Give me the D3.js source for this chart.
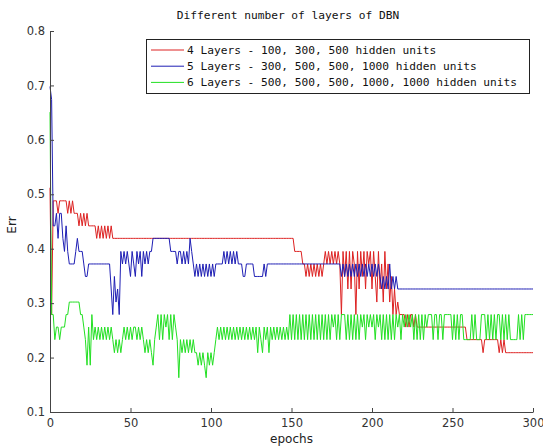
<!DOCTYPE html>
<html>
<head>
<meta charset="utf-8">
<script src="https://cdn.jsdelivr.net/npm/d3@7"></script>
<style>
  html, body { margin: 0; padding: 0; background: #fff; }
  svg { display: block; }
</style>
</head>
<body>
<svg id="chart" width="543" height="446"></svg>
<script>
// ---------------- DATA ----------------
const chartTitle = "Different number of layers of DBN";
const xLabel = "epochs";
const yLabel = "Err";
const xTicks = [0, 50, 100, 150, 200, 250, 300];
const yTicks = [0.1, 0.2, 0.3, 0.4, 0.5, 0.6, 0.7, 0.8];
const seriesNames = [
  "4 Layers - 100, 300, 500 hidden units",
  "5 Layers - 300, 500, 500, 1000 hidden units",
  "6 Layers - 500, 500, 500, 1000, 1000 hidden units"
];

// error per epoch 0..300
const err4Layers = [
  .512,.279,.488,.488,.488,.465,.488,.488,.488,.488,
  .488,.465,.488,.465,.488,.465,.465,.465,.442,.465,
  .442,.465,.442,.465,.442,.442,.442,.442,.442,.419,
  .442,.419,.442,.419,.442,.419,.442,.419,.442,.419,
  .419,.419,.419,.419,.419,.419,.419,.419,.419,.419,
  .419,.419,.419,.419,.419,.419,.419,.419,.419,.419,
  .419,.419,.419,.419,.419,.419,.419,.419,.419,.419,
  .419,.419,.419,.419,.419,.419,.419,.419,.419,.419,
  .419,.419,.419,.419,.419,.419,.419,.419,.419,.419,
  .419,.419,.419,.419,.419,.419,.419,.419,.419,.419,
  .419,.419,.419,.419,.419,.419,.419,.419,.419,.419,
  .419,.419,.419,.419,.419,.419,.419,.419,.419,.419,
  .419,.419,.419,.419,.419,.419,.419,.419,.419,.419,
  .419,.419,.419,.419,.419,.419,.419,.419,.419,.419,
  .419,.419,.419,.419,.419,.419,.419,.419,.419,.419,
  .419,.419,.395,.395,.395,.395,.395,.372,.372,.349,
  .372,.349,.372,.349,.372,.349,.372,.349,.372,.349,
  .372,.395,.372,.395,.372,.395,.372,.395,.372,.395,
  .372,.279,.395,.349,.395,.326,.395,.326,.395,.372,
  .279,.395,.326,.395,.349,.395,.326,.395,.372,.395,
  .326,.395,.349,.302,.395,.326,.372,.302,.395,.326,
  .372,.302,.349,.279,.326,.279,.302,.279,.279,.279,
  .279,.256,.279,.256,.279,.279,.256,.279,.256,.256,
  .256,.256,.256,.256,.256,.256,.256,.256,.256,.256,
  .256,.256,.256,.256,.256,.256,.256,.256,.256,.256,
  .256,.256,.256,.256,.256,.256,.256,.256,.256,.233,
  .233,.233,.233,.233,.233,.233,.233,.233,.233,.209,
  .233,.233,.233,.233,.233,.233,.233,.233,.233,.209,
  .233,.209,.233,.209,.209,.209,.209,.209,.209,.209,
  .209,.209,.209,.209,.209,.209,.209,.209,.209,.209,
  .209
];

const err5Layers = [
  .698,.674,.442,.442,.465,.419,.465,.465,.419,.395,
  .442,.395,.372,.372,.372,.372,.395,.419,.395,.395,
  .395,.372,.349,.349,.372,.372,.372,.372,.372,.372,
  .372,.372,.372,.372,.372,.372,.372,.372,.326,.279,
  .349,.302,.326,.279,.395,.372,.395,.372,.395,.372,
  .349,.395,.372,.349,.395,.372,.395,.349,.395,.372,
  .395,.372,.395,.395,.419,.419,.419,.419,.419,.419,
  .419,.419,.419,.419,.419,.395,.395,.395,.395,.372,
  .395,.395,.372,.395,.372,.395,.372,.419,.395,.372,
  .349,.372,.349,.372,.349,.372,.349,.372,.349,.372,
  .349,.372,.349,.372,.372,.372,.372,.372,.395,.372,
  .395,.372,.395,.372,.395,.372,.395,.372,.372,.372,
  .349,.349,.372,.372,.372,.372,.372,.349,.349,.349,
  .349,.349,.349,.372,.349,.372,.372,.372,.372,.372,
  .372,.372,.372,.372,.372,.372,.372,.372,.372,.372,
  .372,.372,.372,.372,.372,.372,.372,.372,.372,.372,
  .372,.372,.372,.372,.372,.372,.372,.372,.372,.372,
  .372,.372,.372,.372,.372,.372,.372,.372,.372,.372,
  .372,.349,.372,.349,.372,.349,.372,.349,.372,.349,
  .372,.349,.372,.349,.372,.349,.372,.349,.372,.349,
  .372,.349,.372,.349,.372,.349,.326,.349,.326,.349,
  .326,.372,.326,.349,.326,.349,.326,.326,.326,.326,
  .326,.326,.326,.326,.326,.326,.326,.326,.326,.326,
  .326,.326,.326,.326,.326,.326,.326,.326,.326,.326,
  .326,.326,.326,.326,.326,.326,.326,.326,.326,.326,
  .326,.326,.326,.326,.326,.326,.326,.326,.326,.326,
  .326,.326,.326,.326,.326,.326,.326,.326,.326,.326,
  .326,.326,.326,.326,.326,.326,.326,.326,.326,.326,
  .326,.326,.326,.326,.326,.326,.326,.326,.326,.326,
  .326,.326,.326,.326,.326,.326,.326,.326,.326,.326,
  .326
];

const err6Layers = [
  .651,.279,.279,.233,.256,.256,.233,.256,.256,.256,
  .279,.279,.302,.302,.302,.302,.302,.302,.302,.279,
  .279,.256,.233,.186,.256,.186,.279,.233,.256,.233,
  .256,.233,.256,.233,.256,.233,.256,.233,.256,.233,
  .209,.233,.209,.233,.209,.233,.256,.233,.256,.233,
  .256,.233,.256,.256,.233,.256,.233,.256,.233,.209,
  .233,.209,.233,.209,.186,.233,.256,.279,.233,.279,
  .233,.279,.256,.279,.233,.279,.233,.279,.256,.233,
  .163,.233,.209,.233,.209,.233,.209,.233,.209,.233,
  .209,.209,.186,.209,.186,.209,.186,.163,.209,.186,
  .209,.186,.209,.233,.256,.233,.256,.233,.256,.233,
  .256,.233,.256,.233,.256,.233,.256,.233,.256,.233,
  .256,.233,.256,.233,.256,.233,.256,.233,.256,.209,
  .256,.233,.209,.256,.233,.256,.209,.256,.233,.256,
  .233,.256,.233,.256,.233,.256,.233,.256,.233,.279,
  .233,.279,.233,.279,.233,.279,.233,.279,.233,.279,
  .233,.279,.233,.279,.233,.279,.233,.279,.233,.279,
  .233,.279,.233,.279,.233,.279,.256,.279,.233,.279,
  .233,.279,.279,.279,.233,.279,.233,.279,.233,.279,
  .233,.279,.233,.279,.256,.279,.233,.279,.256,.279,
  .256,.279,.233,.279,.256,.279,.233,.279,.233,.279,
  .233,.279,.233,.279,.233,.279,.256,.279,.233,.279,
  .256,.279,.256,.279,.256,.279,.233,.279,.233,.279,
  .233,.279,.233,.279,.256,.279,.279,.279,.233,.279,
  .279,.233,.279,.279,.233,.279,.279,.279,.279,.279,
  .233,.279,.233,.279,.233,.279,.279,.233,.233,.233,
  .233,.233,.279,.233,.279,.233,.233,.233,.279,.279,
  .279,.233,.279,.233,.279,.233,.279,.233,.279,.279,
  .233,.279,.233,.279,.233,.279,.233,.233,.233,.233,
  .233,.279,.233,.279,.233,.279,.279,.279,.279,.279,
  .279
];

const seriesValues = [err4Layers, err5Layers, err6Layers];
const seriesColors = ["#dd2222", "#1e1eb4", "#22e022"];

// ---------------- DRAW ----------------
const svg = d3.select("#chart");
const plot = { left: 50, right: 533, top: 31, bottom: 412 };

const x = d3.scaleLinear().domain([0, 300]).range([plot.left, plot.right]);
const y = d3.scaleLinear().domain([0.1, 0.8]).range([plot.bottom, plot.top]);

const axisColor = "#444";
const tickFont = "'DejaVu Sans', sans-serif";

// lines
const line = d3.line()
  .x((d, i) => x(i))
  .y(d => y(d));

const gLines = svg.append("g");
seriesValues.forEach((vals, s) => {
  gLines.append("path")
    .datum(vals)
    .attr("fill", "none")
    .attr("stroke", seriesColors[s])
    .attr("stroke-width", 1)
    .attr("stroke-linejoin", "miter")
    .attr("d", line);
});

// axes
const xAxis = d3.axisBottom(x).tickValues(xTicks).tickSizeInner(-4).tickSizeOuter(0).tickPadding(7)
  .tickFormat(d3.format("d"));
const yAxis = d3.axisLeft(y).tickValues(yTicks).tickSizeInner(-4).tickSizeOuter(0).tickPadding(5)
  .tickFormat(d3.format(".1f"));

const gx = svg.append("g").attr("transform", `translate(0,${plot.bottom})`).call(xAxis);
const gy = svg.append("g").attr("transform", `translate(${plot.left},0)`).call(yAxis);

[gx, gy].forEach(g => {
  g.select(".domain").attr("stroke", axisColor);
  g.selectAll(".tick line").attr("stroke", axisColor);
  g.selectAll(".tick text")
    .attr("fill", "#333")
    .style("font-family", tickFont)
    .style("font-size", "11.5px");
});

// title
svg.append("text")
  .attr("x", 288).attr("y", 19)
  .attr("text-anchor", "middle")
  .style("font-family", "'DejaVu Sans Mono', monospace")
  .style("font-size", "11.2px")
  .attr("fill", "#111")
  .text(chartTitle);

// axis labels
svg.append("text")
  .attr("x", (plot.left + plot.right) / 2).attr("y", 443)
  .attr("text-anchor", "middle")
  .style("font-family", tickFont)
  .style("font-size", "12px")
  .attr("fill", "#222")
  .text(xLabel);

svg.append("text")
  .attr("transform", `translate(16,225) rotate(-90)`)
  .attr("text-anchor", "middle")
  .style("font-family", tickFont)
  .style("font-size", "12px")
  .attr("fill", "#222")
  .text(yLabel);

// legend
const legend = svg.append("g");
legend.append("rect")
  .attr("x", 146.5).attr("y", 39.5)
  .attr("width", 383).attr("height", 54)
  .attr("fill", "#fff")
  .attr("stroke", "#222")
  .attr("stroke-width", 1);

seriesNames.forEach((name, i) => {
  const cy = 50 + i * 16.2;
  legend.append("line")
    .attr("x1", 151).attr("x2", 184)
    .attr("y1", cy).attr("y2", cy)
    .attr("stroke", seriesColors[i])
    .attr("stroke-width", 1);
  legend.append("text")
    .attr("x", 187).attr("y", cy)
    .attr("dy", "0.35em")
    .style("font-family", "'DejaVu Sans Mono', monospace")
    .style("font-size", "11.2px")
    .attr("fill", "#111")
    .text(name);
});
</script>
</body>
</html>
